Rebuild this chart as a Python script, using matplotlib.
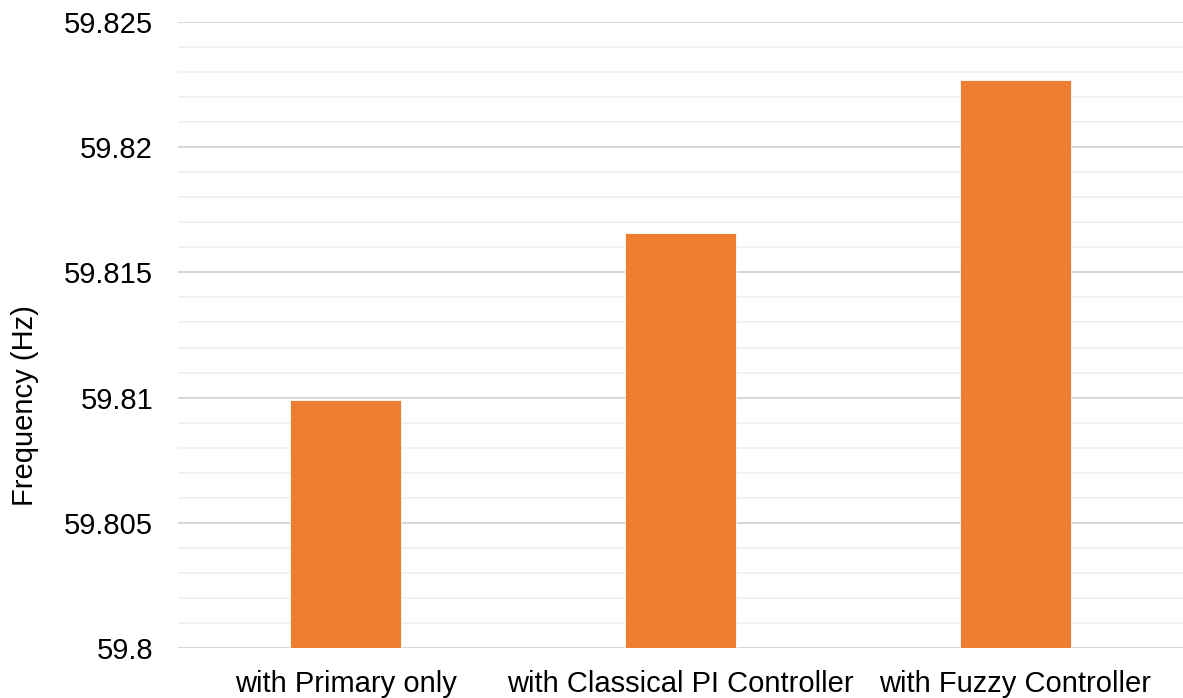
import matplotlib
matplotlib.use('Agg')
import matplotlib.pyplot as plt
from matplotlib.ticker import MultipleLocator, FuncFormatter

categories = ['with Primary only', 'with Classical PI Controller', 'with Fuzzy Controller']
frequency = [59.8099, 59.81657, 59.82268]

plt.rcParams['font.family'] = ['Liberation Sans', 'DejaVu Sans']

fig = plt.figure(figsize=(11.83, 6.98), dpi=100)
ax = fig.add_axes([0.1505, 0.0716, 0.8495, 0.8969])

x = range(len(categories))
ax.bar(x, [f - 59.8 for f in frequency], bottom=59.8, width=0.334,
       color='#ED7D31', edgecolor='white', linewidth=0.6, zorder=3)

ax.set_xlim(-0.5, 2.5)
ax.set_ylim(59.8, 59.825)
ax.yaxis.set_major_locator(MultipleLocator(0.005))
ax.yaxis.set_minor_locator(MultipleLocator(0.001))
ax.yaxis.set_major_formatter(FuncFormatter(lambda v, p: ('%.3f' % v).rstrip('0').rstrip('.')))
ax.grid(which='major', axis='y', color='#D6D6D6', linewidth=1.4, zorder=0)
ax.grid(which='minor', axis='y', color='#F0F0F0', linewidth=1.3, zorder=0)

ax.set_xticks(list(x))
ax.set_xticklabels(categories)
ax.tick_params(axis='both', which='both', length=0, labelsize=21, colors='black')
ax.tick_params(axis='y', pad=18)
ax.tick_params(axis='x', pad=16)
for s in ax.spines.values():
    s.set_visible(False)

# y label sits a bit below the axes centre in the reference
fig.text(25 / 1183, 1 - 406 / 698, 'Frequency (Hz)', fontsize=21,
         rotation=90, ha='center', va='center')

fig.savefig('out.png', dpi=100)
